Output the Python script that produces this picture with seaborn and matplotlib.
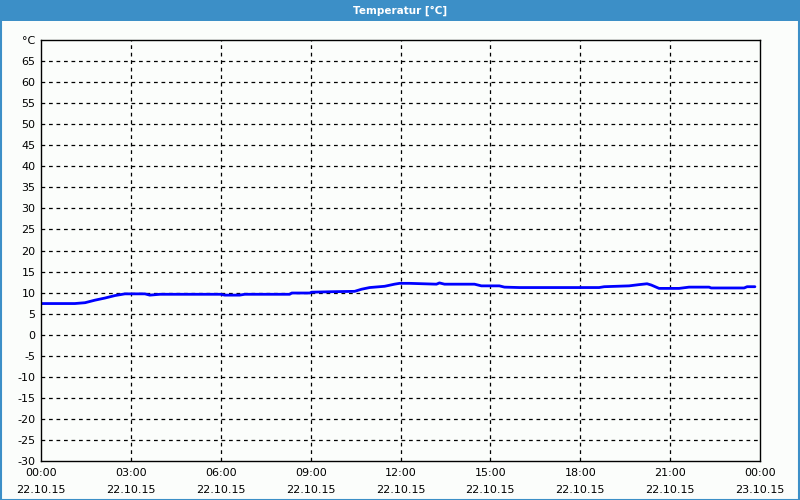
import pandas as pd
import matplotlib.pyplot as plt
import seaborn as sns
from matplotlib.patches import Rectangle
from matplotlib.ticker import MultipleLocator

# Data (hours since 22.10.15 00:00, °C)
hours = [0.0, 1.13, 1.47, 1.8, 2.13, 2.47, 2.8, 3.47, 3.63, 3.97, 6.0, 6.13,
         6.63, 6.8, 8.3, 8.37, 8.97, 9.03, 9.63, 10.47, 10.7, 10.97, 11.47,
         11.8, 11.97, 12.3, 13.2, 13.3, 13.47, 14.47, 14.7, 15.3, 15.47,
         15.97, 18.63, 18.8, 19.63, 19.97, 20.23, 20.37, 20.63, 21.3, 21.63,
         22.3, 22.37, 23.47, 23.57, 23.83]
temps = [7.4, 7.4, 7.6, 8.2, 8.7, 9.3, 9.7, 9.7, 9.4, 9.6, 9.6, 9.4,
         9.4, 9.6, 9.6, 9.9, 9.9, 10.1, 10.2, 10.3, 10.8, 11.2, 11.5,
         12.0, 12.2, 12.2, 12.0, 12.3, 12.0, 12.0, 11.6, 11.6, 11.3,
         11.2, 11.2, 11.4, 11.6, 11.9, 12.1, 11.8, 11.0, 11.0, 11.3,
         11.3, 11.1, 11.1, 11.4, 11.4]

x_ticks = [0, 3, 6, 9, 12, 15, 18, 21, 24]
x_labels = ["00:00\n22.10.15", "03:00\n22.10.15", "06:00\n22.10.15",
            "09:00\n22.10.15", "12:00\n22.10.15", "15:00\n22.10.15",
            "18:00\n22.10.15", "21:00\n22.10.15", "00:00\n23.10.15"]
y_ticks = list(range(-30, 75, 5))
y_labels = [str(v) for v in y_ticks[:-1]] + ["°C"]

df = pd.DataFrame({"hour": hours, "temp": temps})

sns.set_style("white")
plt.rcParams["font.family"] = ["DejaVu Sans"]

bg = "#fbfdfb"
blue_bar = "#3c8fc7"

fig = plt.figure(figsize=(8, 5), dpi=100, facecolor=bg)
ax = fig.add_axes([41 / 800, 39 / 500, 719 / 800, 421 / 500])
ax.set_facecolor(bg)

sns.lineplot(data=df, x="hour", y="temp", ax=ax, color="#0000ff", linewidth=2.0)

ax.set_xlim(0, 24)
ax.set_ylim(-30, 70)
ax.set_xticks(x_ticks)
ax.set_xticklabels(x_labels, linespacing=1.9)
ax.xaxis.set_minor_locator(MultipleLocator(1))
ax.set_yticks(y_ticks)
ax.set_yticklabels(y_labels)
ax.set_xlabel("")
ax.set_ylabel("")

ax.tick_params(axis="both", which="major", length=0, labelsize=8, colors="black", pad=4)
ax.tick_params(axis="x", which="minor", direction="in", length=4, width=1, color="black")
ax.tick_params(axis="x", which="major", pad=5)

for v in y_ticks[1:-1]:
    ax.axhline(v, color="black", linewidth=0.9, linestyle=(0, (3, 3)), zorder=0)
for h in x_ticks[1:-1]:
    ax.axvline(h, color="black", linewidth=0.9, linestyle=(0, (3, 3)), zorder=0)

for s in ax.spines.values():
    s.set_color("black")
    s.set_linewidth(1)
    s.set_visible(True)

# title bar and window border
fig.patches.append(Rectangle((0, 1 - 21 / 500), 1, 21 / 500, transform=fig.transFigure,
                             facecolor=blue_bar, edgecolor="none", zorder=0))
fig.patches.append(Rectangle((0.5 / 800, 0.5 / 500), 1 - 1.5 / 800, 1 - 1.5 / 500,
                             transform=fig.transFigure, facecolor="none",
                             edgecolor=blue_bar, linewidth=1.5, zorder=5))
fig.text(0.5, 1 - 10.5 / 500, "Temperatur [°C]", color="white", fontsize=7.5,
         fontweight="bold", ha="center", va="center")

fig.savefig("out.png", dpi=100, facecolor=bg)
